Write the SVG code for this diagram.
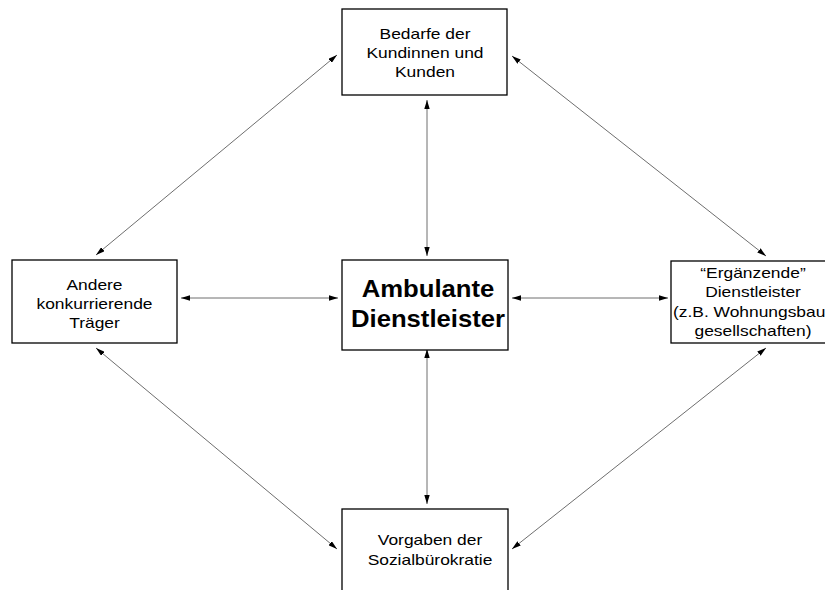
<svg xmlns="http://www.w3.org/2000/svg" width="825" height="590" viewBox="0 0 825 590">
  <style>
    .box { fill: #ffffff; stroke: #000000; stroke-width: 1.3; }
    .lbl { font-family: "Liberation Sans", Arial, sans-serif; font-size: 15px; fill: #000000; text-anchor: middle; }
    .big { font-family: "Liberation Sans", Arial, sans-serif; font-size: 24px; font-weight: bold; fill: #000000; text-anchor: middle; }
    .link { stroke: #6e6e6e; stroke-width: 1; fill: none; marker-start: url(#head); marker-end: url(#head); }
  </style>
  <defs>
    <marker id="head" viewBox="0 0 10 6" refX="10" refY="3" markerWidth="9" markerHeight="5.4" markerUnits="userSpaceOnUse" orient="auto-start-reverse">
      <path d="M0,0 L10,3 L0,6 Z" fill="#000000"/>
    </marker>
  </defs>
  <rect width="825" height="590" fill="#ffffff"/>

  <g id="connectors">
    <line class="link" x1="427" y1="100" x2="427" y2="256"/>
    <line class="link" x1="427" y1="349" x2="427" y2="504"/>
    <line class="link" x1="181" y1="298" x2="338" y2="298"/>
    <line class="link" x1="512" y1="298" x2="668" y2="298"/>
    <line class="link" x1="337" y1="55" x2="96" y2="255"/>
    <line class="link" x1="512" y1="56" x2="766" y2="256"/>
    <line class="link" x1="96" y1="348" x2="337" y2="549"/>
    <line class="link" x1="766" y1="348" x2="512" y2="549"/>
  </g>

  <g id="bedarfe">
    <rect class="box" x="342" y="9" width="165" height="86"/>
    <g transform="translate(425 0) scale(1.16 1)">
      <text class="lbl" x="0" y="39">Bedarfe der</text>
      <text class="lbl" x="0" y="58">Kundinnen und</text>
      <text class="lbl" x="0" y="77">Kunden</text>
    </g>
  </g>

  <g id="andere-traeger">
    <rect class="box" x="12" y="260" width="165" height="83"/>
    <g transform="translate(94.5 0) scale(1.16 1)">
      <text class="lbl" x="0" y="290">Andere</text>
      <text class="lbl" x="0" y="309">konkurrierende</text>
      <text class="lbl" x="0" y="328">Träger</text>
    </g>
  </g>

  <g id="ambulante-dienstleister">
    <rect class="box" x="342" y="260" width="166" height="90"/>
    <g transform="translate(428 0) scale(1.07 1)">
      <text class="big" x="0" y="297">Ambulante</text>
      <text class="big" x="0" y="327">Dienstleister</text>
    </g>
  </g>

  <g id="ergaenzende-dienstleister">
    <rect class="box" x="671" y="261" width="165" height="82"/>
    <g transform="translate(753 0) scale(1.16 1)">
      <text class="lbl" x="0" y="278">“Ergänzende”</text>
      <text class="lbl" x="0" y="297">Dienstleister</text>
      <text class="lbl" x="-69" y="317" text-anchor="start" style="text-anchor:start">(z.B. Wohnungsbau</text>
      <text class="lbl" x="0" y="336">gesellschaften)</text>
    </g>
  </g>

  <g id="vorgaben">
    <rect class="box" x="342" y="509" width="166" height="100"/>
    <g transform="translate(430 0) scale(1.16 1)">
      <text class="lbl" x="0" y="545">Vorgaben der</text>
      <text class="lbl" x="0" y="565">Sozialbürokratie</text>
    </g>
  </g>
</svg>
